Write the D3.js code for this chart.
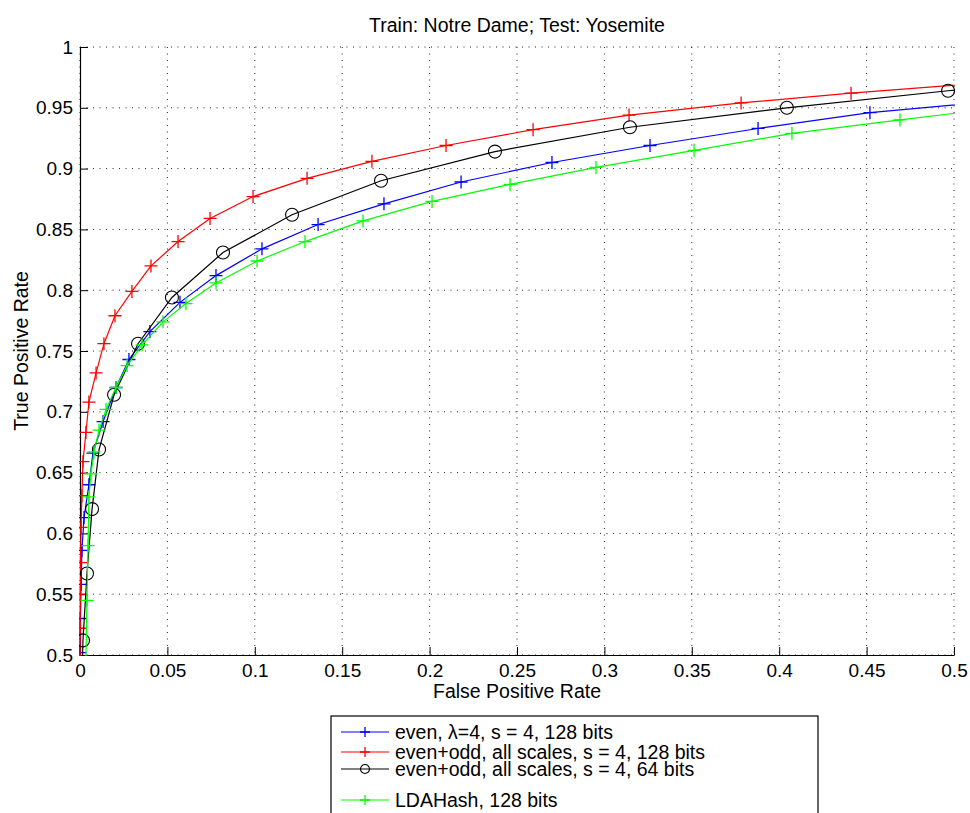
<!DOCTYPE html>
<html>
<head>
<meta charset="utf-8">
<script src="https://cdn.jsdelivr.net/npm/d3@7/dist/d3.min.js"></script>
<style>
  body { margin: 0; background: #fff; }
  text { font-family: "Liberation Sans", Arial, Helvetica, sans-serif; fill: #000; }
</style>
</head>
<body>
<svg id="roc"></svg>
<script>
//Chart data
var xTicks = [0, 0.05, 0.1, 0.15, 0.2, 0.25, 0.3, 0.35, 0.4, 0.45, 0.5];
var yTicks = [0.5, 0.55, 0.6, 0.65, 0.7, 0.75, 0.8, 0.85, 0.9, 0.95, 1];

var blueFpr = [0.0000, 0.0002, 0.0006, 0.0011, 0.0023, 0.0051, 0.0074, 0.0132, 0.0206, 0.0280, 0.0400, 0.0572, 0.0778, 0.1041, 0.1362, 0.1739, 0.2180, 0.2700, 0.3261, 0.3879, 0.4519, 0.5200];
var blueTpr = [0.502, 0.530, 0.558, 0.586, 0.613, 0.640, 0.666, 0.692, 0.720, 0.743, 0.766, 0.790, 0.812, 0.834, 0.854, 0.871, 0.889, 0.905, 0.919, 0.933, 0.946, 0.955];

var redFpr = [0.0000, 0.0001, 0.0002, 0.0003, 0.0006, 0.0011, 0.0017, 0.0034, 0.0051, 0.0092, 0.0137, 0.0200, 0.0297, 0.0406, 0.0561, 0.0744, 0.0990, 0.1299, 0.1670, 0.2094, 0.2592, 0.3141, 0.3782, 0.4411, 0.5120];
var redTpr = [0.495, 0.522, 0.550, 0.576, 0.605, 0.631, 0.659, 0.683, 0.708, 0.732, 0.756, 0.779, 0.799, 0.820, 0.840, 0.859, 0.877, 0.892, 0.906, 0.919, 0.932, 0.944, 0.954, 0.962, 0.970];

var blackFpr = [0.0008, 0.0017, 0.0040, 0.0069, 0.0109, 0.0195, 0.0332, 0.0526, 0.0818, 0.1213, 0.1722, 0.2374, 0.3146, 0.4044, 0.4966, 0.5900];
var blackTpr = [0.460, 0.512, 0.567, 0.620, 0.669, 0.714, 0.756, 0.794, 0.831, 0.862, 0.890, 0.914, 0.934, 0.950, 0.964, 0.975];

var greenFpr = [0.0033, 0.0040, 0.0046, 0.0051, 0.0063, 0.0080, 0.0109, 0.0149, 0.0206, 0.0269, 0.0355, 0.0475, 0.0606, 0.0778, 0.1013, 0.1287, 0.1619, 0.2014, 0.2460, 0.2952, 0.3513, 0.4073, 0.4691, 0.5320];
var greenTpr = [0.490, 0.545, 0.590, 0.630, 0.649, 0.667, 0.685, 0.702, 0.720, 0.738, 0.755, 0.774, 0.789, 0.806, 0.824, 0.840, 0.857, 0.873, 0.887, 0.901, 0.915, 0.929, 0.940, 0.951];

var seriesNames = ["even, \u03bb=4, s = 4, 128 bits", "even+odd, all scales, s = 4, 128 bits", "even+odd, all scales, s = 4, 64 bits", "LDAHash, 128 bits"];

var width = 970, height = 813;
var margin = {top: 47, right: 16, bottom: 158, left: 80};
var plotW = 954 - margin.left, plotH = 655 - margin.top;

var svg = d3.select("#roc")
    .attr("width", width)
    .attr("height", height);

var g = svg.append("g")
    .attr("transform", "translate(" + margin.left + "," + margin.top + ")");

var x = d3.scaleLinear().domain([0, 0.5]).range([0, plotW]);
var y = d3.scaleLinear().domain([0.5, 1]).range([plotH, 0]);

//Dotted grid
g.append("g").selectAll("line")
    .data(xTicks)
    .enter().append("line")
    .attr("x1", function(d) { return x(d); })
    .attr("x2", function(d) { return x(d); })
    .attr("y1", 0).attr("y2", plotH)
    .attr("stroke", "#222").attr("stroke-width", 1)
    .attr("stroke-dasharray", "1,5.5");

g.append("g").selectAll("line")
    .data(yTicks)
    .enter().append("line")
    .attr("y1", function(d) { return y(d); })
    .attr("y2", function(d) { return y(d); })
    .attr("x1", 0).attr("x2", plotW)
    .attr("stroke", "#222").attr("stroke-width", 1)
    .attr("stroke-dasharray", "1,5.5");

//Axes, ticks pointing inward
var xAxis = g.append("g")
    .attr("transform", "translate(0," + plotH + ")")
    .call(d3.axisBottom(x).tickValues(xTicks).tickSizeInner(-8).tickSizeOuter(0).tickPadding(12)
        .tickFormat(function(d) { return d3.format("")(+d.toFixed(2)); }));

var yAxis = g.append("g")
    .call(d3.axisLeft(y).tickValues(yTicks).tickSizeInner(-8).tickSizeOuter(0).tickPadding(7)
        .tickFormat(function(d) { return d3.format("")(+d.toFixed(2)); }));

[xAxis, yAxis].forEach(function(a) {
  a.selectAll("text").attr("font-size", "19px").attr("fill", "#000");
  a.selectAll("line").attr("stroke", "#000");
  a.select(".domain").attr("stroke", "#000").attr("stroke-width", 1.2);
});
xAxis.selectAll("text").attr("dy", "0.71em").attr("y", 9);

//Clip the curves to the plot box
svg.append("defs").append("clipPath")
    .attr("id", "plotClip")
  .append("rect")
    .attr("x", -1).attr("y", -1)
    .attr("width", plotW + 2).attr("height", plotH + 2);

var series = [
  {name: seriesNames[0], color: "#0000ff", marker: "plus", fpr: blueFpr, tpr: blueTpr},
  {name: seriesNames[1], color: "#ff0000", marker: "plus", fpr: redFpr, tpr: redTpr},
  {name: seriesNames[2], color: "#000000", marker: "circle", fpr: blackFpr, tpr: blackTpr},
  {name: seriesNames[3], color: "#00ff00", marker: "plus", fpr: greenFpr, tpr: greenTpr}
];

var line = d3.line()
    .x(function(d) { return x(d[0]); })
    .y(function(d) { return y(d[1]); });

function drawMarker(sel, kind, color, size) {
  if (kind === "circle") {
    sel.append("circle")
        .attr("r", size)
        .attr("fill", "none")
        .attr("stroke", color)
        .attr("stroke-width", 1.1);
  } else {
    sel.append("path")
        .attr("d", "M" + (-size) + ",0H" + size + "M0," + (-size) + "V" + size)
        .attr("stroke", color)
        .attr("stroke-width", 1.3);
  }
}

var curves = g.append("g").attr("clip-path", "url(#plotClip)");

//First series at the bottom, later ones on top
series.forEach(function(s) {
  var pts = s.fpr.map(function(v, i) { return [v, s.tpr[i]]; });
  var cg = curves.append("g");
  cg.append("path")
      .attr("d", line(pts))
      .attr("fill", "none")
      .attr("stroke", s.color)
      .attr("stroke-width", 1.2);
  cg.selectAll(".mk")
      .data(pts)
      .enter().append("g")
      .attr("class", "mk")
      .attr("transform", function(d) { return "translate(" + x(d[0]) + "," + y(d[1]) + ")"; })
      .each(function() { drawMarker(d3.select(this), s.marker, s.color, 6.5); });
});

//Title and axis labels
svg.append("text")
    .attr("x", margin.left + plotW / 2)
    .attr("y", 32)
    .attr("font-size", "19.5px")
    .style("text-anchor", "middle")
    .text("Train: Notre Dame; Test: Yosemite");

svg.append("text")
    .attr("x", margin.left + plotW / 2)
    .attr("y", 698)
    .attr("font-size", "19.5px")
    .style("text-anchor", "middle")
    .text("False Positive Rate");

svg.append("text")
    .attr("transform", "translate(28," + (margin.top + plotH / 2) + ") rotate(-90)")
    .attr("font-size", "19.5px")
    .style("text-anchor", "middle")
    .text("True Positive Rate");

//Legend box (runs off the bottom of the page like the original)
var legend = svg.append("g").attr("transform", "translate(331,716)");
legend.append("rect")
    .attr("width", 487).attr("height", 120)
    .attr("fill", "#fff")
    .attr("stroke", "#000").attr("stroke-width", 1.2);

var rowY = [16, 36, 53, 84];
series.forEach(function(s, i) {
  var row = legend.append("g").attr("transform", "translate(0," + rowY[i] + ")");
  row.append("line")
      .attr("x1", 10).attr("x2", 58)
      .attr("stroke", s.color).attr("stroke-width", 1.2);
  drawMarker(row.append("g").attr("transform", "translate(34,0)"), s.marker, s.color, s.marker === "circle" ? 4.5 : 5);
  row.append("text")
      .attr("x", 64).attr("y", 7)
      .attr("font-size", "19.5px")
      .text(s.name);
});
</script>
</body>
</html>
